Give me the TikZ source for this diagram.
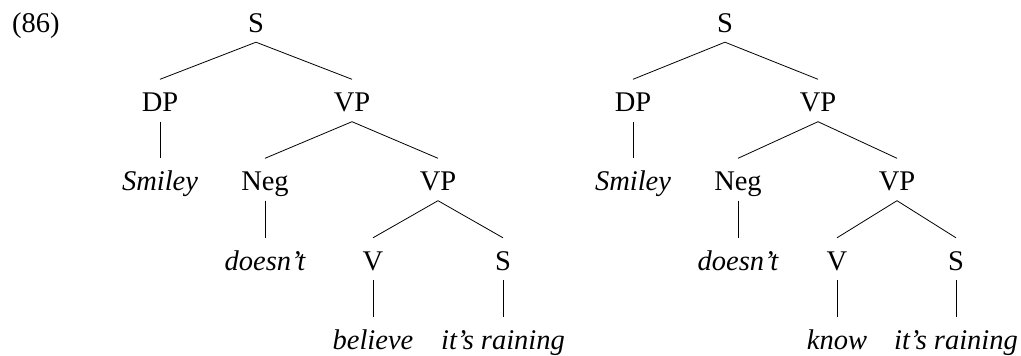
\documentclass[tikz,border=0pt]{standalone}
\usepackage{fontspec}
\setmainfont{Liberation Serif}
\begin{document}
\begin{tikzpicture}[x=1pt,y=-1pt,
  lab/.style={anchor=base,inner xsep=0pt,inner ysep=5pt,text height=27pt,text depth=5pt,font=\fontsize{28.5}{32}\selectfont},
  edge/.style={line width=0.8pt}]
\useasboundingbox (0,0) rectangle (1021,356);
\node[anchor=base west,inner sep=0pt,font=\fontsize{28.5}{32}\selectfont] (ex) at (12,32) {(86)};
% left tree
\node[lab] (aS) at (256,32) {S};
\node[lab] (aDP) at (160,111.5) {DP};
\node[lab] (aVP) at (352,111.5) {VP};
\node[lab] (aSm) at (160,190.5) {\itshape Smiley};
\node[lab] (aNeg) at (265,190.5) {Neg};
\node[lab] (aVP2) at (438,190.5) {VP};
\node[lab] (aDo) at (265,270) {\itshape doesn’t};
\node[lab] (aV) at (373,270) {V};
\node[lab] (aS2) at (503,270) {S};
\node[lab] (aBe) at (373,349) {\itshape believe};
\node[lab] (aIt) at (503,349) {\itshape it’s raining};
\draw[edge] (aS.south) -- (aDP.north);
\draw[edge] (aS.south) -- (aVP.north);
\draw[edge] (aDP.south) -- (aSm.north);
\draw[edge] (aVP.south) -- (aNeg.north);
\draw[edge] (aVP.south) -- (aVP2.north);
\draw[edge] (aNeg.south) -- (aDo.north);
\draw[edge] (aVP2.south) -- (aV.north);
\draw[edge] (aVP2.south) -- (aS2.north);
\draw[edge] (aV.south) -- (aBe.north);
\draw[edge] (aS2.south) -- (aIt.north);
% right tree
\node[lab] (bS) at (725,32) {S};
\node[lab] (bDP) at (633,111.5) {DP};
\node[lab] (bVP) at (818,111.5) {VP};
\node[lab] (bSm) at (633,190.5) {\itshape Smiley};
\node[lab] (bNeg) at (738,190.5) {Neg};
\node[lab] (bVP2) at (897,190.5) {VP};
\node[lab] (bDo) at (738,270) {\itshape doesn’t};
\node[lab] (bV) at (837,270) {V};
\node[lab] (bS2) at (956,270) {S};
\node[lab] (bKn) at (837,349) {\itshape know};
\node[lab] (bIt) at (956,349) {\itshape it’s raining};
\draw[edge] (bS.south) -- (bDP.north);
\draw[edge] (bS.south) -- (bVP.north);
\draw[edge] (bDP.south) -- (bSm.north);
\draw[edge] (bVP.south) -- (bNeg.north);
\draw[edge] (bVP.south) -- (bVP2.north);
\draw[edge] (bNeg.south) -- (bDo.north);
\draw[edge] (bVP2.south) -- (bV.north);
\draw[edge] (bVP2.south) -- (bS2.north);
\draw[edge] (bV.south) -- (bKn.north);
\draw[edge] (bS2.south) -- (bIt.north);
\end{tikzpicture}
\end{document}
